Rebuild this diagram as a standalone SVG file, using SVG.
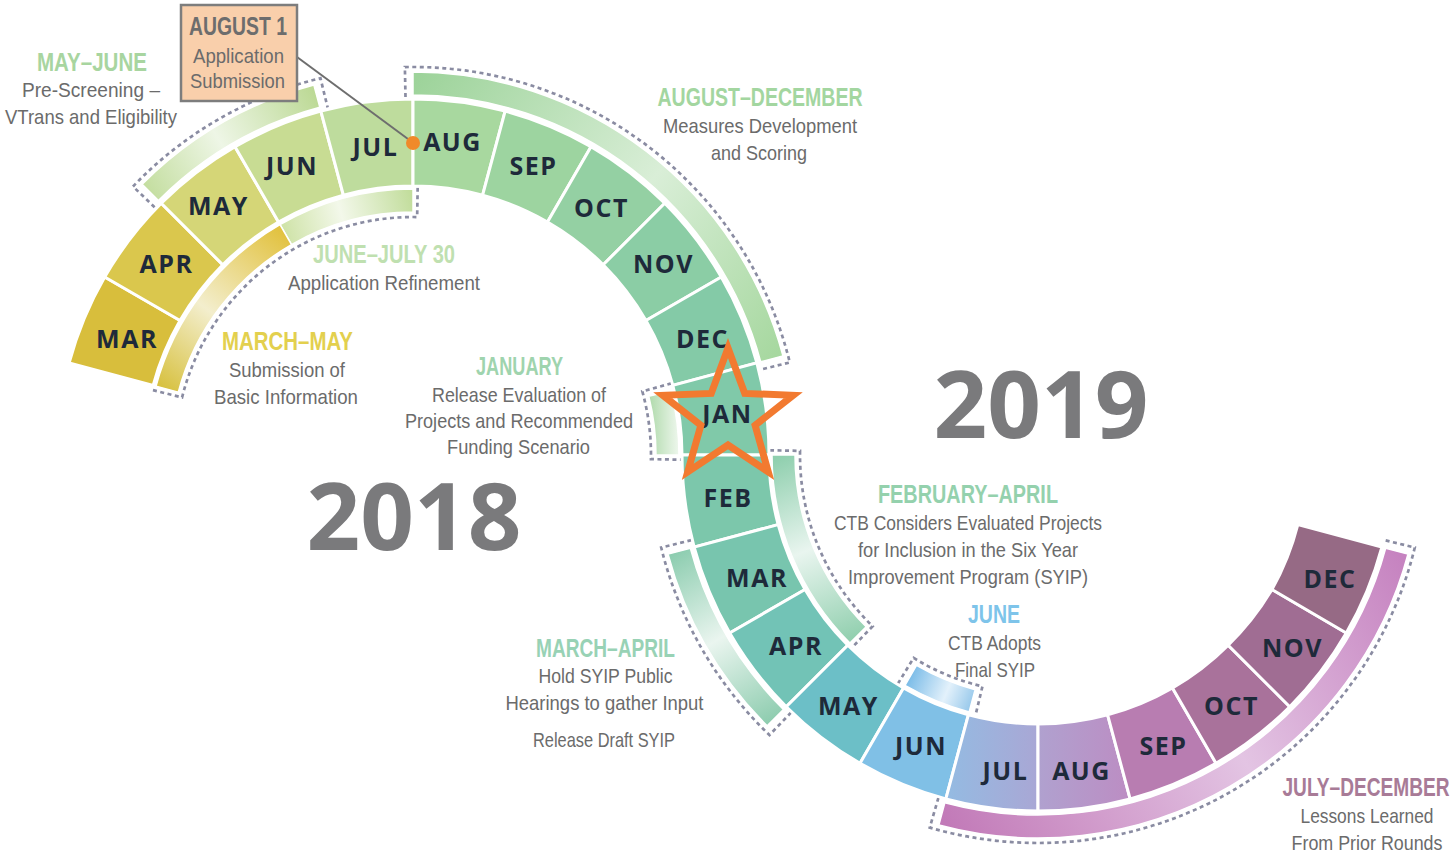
<svg xmlns="http://www.w3.org/2000/svg" width="1454" height="855" viewBox="0 0 1454 855">
<style>
.seg{stroke:#fff;stroke-width:3;stroke-linejoin:miter}
.band{stroke:#fff;stroke-width:1.5}
.dash{fill:none;stroke:#8a8ca2;stroke-width:2.7;stroke-dasharray:4 3.5}
.mon{font-family:"Open Sans","DejaVu Sans",sans-serif;font-weight:700;font-size:25px;letter-spacing:1.5px;fill:#1e2a3a;text-anchor:middle}
.hd{font-family:"Liberation Sans",Arial,sans-serif;font-weight:700;font-size:26px;text-anchor:middle}
.tx{font-family:"Liberation Sans",Arial,sans-serif;font-size:21px;fill:#6b6b6b;text-anchor:middle}
.yr{font-family:"Open Sans","DejaVu Sans",sans-serif;font-weight:700;font-size:94px;fill:#7a7a7c;text-anchor:middle}
</style>
<defs>
<linearGradient id="gMayJune" gradientUnits="userSpaceOnUse" x1="150" y1="195" x2="317" y2="96"><stop offset="0" stop-color="#c4dea0"/><stop offset="0.45" stop-color="#eef6e6"/><stop offset="1" stop-color="#bcd995"/></linearGradient>
<linearGradient id="gAugDec" gradientUnits="userSpaceOnUse" x1="413" y1="83" x2="772" y2="359"><stop offset="0" stop-color="#9dd39a"/><stop offset="0.55" stop-color="#d9eed7"/><stop offset="1" stop-color="#a7d8a0"/></linearGradient>
<linearGradient id="gJJ" gradientUnits="userSpaceOnUse" x1="285" y1="235" x2="413" y2="200"><stop offset="0" stop-color="#cfe3a8"/><stop offset="0.45" stop-color="#f3f8ea"/><stop offset="1" stop-color="#c2dd9c"/></linearGradient>
<linearGradient id="gMM" gradientUnits="userSpaceOnUse" x1="167" y1="389" x2="286" y2="235"><stop offset="0" stop-color="#d8c243"/><stop offset="0.45" stop-color="#f3eecd"/><stop offset="1" stop-color="#e2c240"/></linearGradient>
<linearGradient id="gJan" gradientUnits="userSpaceOnUse" x1="650" y1="420" x2="679" y2="420"><stop offset="0" stop-color="#b2dbae"/><stop offset="1" stop-color="#eef7ed"/></linearGradient>
<linearGradient id="gFebApr" gradientUnits="userSpaceOnUse" x1="783" y1="455" x2="858" y2="635"><stop offset="0" stop-color="#8fcfae"/><stop offset="0.5" stop-color="#e9f5ef"/><stop offset="1" stop-color="#93d0b0"/></linearGradient>
<linearGradient id="gMarApr" gradientUnits="userSpaceOnUse" x1="679" y1="551" x2="775" y2="718"><stop offset="0" stop-color="#8dcdb0"/><stop offset="0.5" stop-color="#eaf5ef"/><stop offset="1" stop-color="#8fcdb0"/></linearGradient>
<linearGradient id="gJun" gradientUnits="userSpaceOnUse" x1="911" y1="675" x2="972" y2="700"><stop offset="0" stop-color="#7dbde8"/><stop offset="0.6" stop-color="#e3f1fb"/><stop offset="1" stop-color="#9ccbec"/></linearGradient>
<linearGradient id="gJulDec" gradientUnits="userSpaceOnUse" x1="941" y1="814" x2="1397" y2="551"><stop offset="0" stop-color="#c27ab8"/><stop offset="0.55" stop-color="#e3c4e3"/><stop offset="1" stop-color="#c683c0"/></linearGradient>
<linearGradient id="gJul2" gradientUnits="userSpaceOnUse" x1="946" y1="760" x2="1038" y2="760"><stop offset="0" stop-color="#94bbe2"/><stop offset="1" stop-color="#a9a7d5"/></linearGradient>
<linearGradient id="gAug2" gradientUnits="userSpaceOnUse" x1="1038" y1="760" x2="1130" y2="760"><stop offset="0" stop-color="#b0a1cf"/><stop offset="1" stop-color="#bc8dc3"/></linearGradient>
</defs>
<rect width="1454" height="855" fill="#fff"/>

<!-- bands (upper arc) -->
<g id="band-may-june">
<path class="band" fill="url(#gMayJune)" d="M 142.18 184.18 A 383 383 0 0 1 313.87 85.05 L 319.83 107.27 A 360 360 0 0 0 158.44 200.44 Z"/>
<path class="dash" d="M 154.61 207.21 L 132.96 186.45 A 388 388 0 0 1 320.45 78.20 L 327.61 107.34"/>
<text class="hd" fill="#a8d5a0" x="92" y="71" textLength="110" lengthAdjust="spacingAndGlyphs">MAY–JUNE</text>
<text class="tx" x="91" y="97" textLength="138" lengthAdjust="spacingAndGlyphs">Pre-Screening –</text>
<text class="tx" x="91" y="124" textLength="172" lengthAdjust="spacingAndGlyphs">VTrans and Eligibility</text>
</g>
<g id="band-aug-dec">
<path class="band" fill="url(#gAugDec)" d="M 413 72 A 383 383 0 0 1 782.95 355.87 L 760.73 361.83 A 360 360 0 0 0 413 95 Z"/>
<path class="dash" d="M 405.50 97.08 L 404.87 67.08 A 388 388 0 0 1 789.80 362.45 L 760.66 369.61"/>
<text class="hd" fill="#a3d6a0" x="760" y="106" textLength="205" lengthAdjust="spacingAndGlyphs">AUGUST–DECEMBER</text>
<text class="tx" x="760" y="133" textLength="194" lengthAdjust="spacingAndGlyphs">Measures Development</text>
<text class="tx" x="759" y="160" textLength="96" lengthAdjust="spacingAndGlyphs">and Scoring</text>
</g>
<g id="band-june-july">
<path class="band" fill="url(#gJJ)" d="M 280 224.64 A 266 266 0 0 1 413 189 L 413 212 A 243 243 0 0 0 291.5 244.56 Z"/>
<text class="hd" fill="#bfe0b0" x="384" y="263" textLength="142" lengthAdjust="spacingAndGlyphs">JUNE–JULY 30</text>
<text class="tx" x="384" y="290" textLength="192" lengthAdjust="spacingAndGlyphs">Application Refinement</text>
</g>
<g id="band-march-may">
<path class="band" fill="url(#gMM)" d="M 156.06 386.15 A 266 266 0 0 1 280 224.64 L 291.5 244.56 A 243 243 0 0 0 178.28 392.11 Z"/>
<text class="hd" fill="#e3d04e" x="287.5" y="350" textLength="131" lengthAdjust="spacingAndGlyphs">MARCH–MAY</text>
<text class="tx" x="287" y="377" textLength="116" lengthAdjust="spacingAndGlyphs">Submission of</text>
<text class="tx" x="286" y="404" textLength="144" lengthAdjust="spacingAndGlyphs">Basic Information</text>
</g>
<path class="dash" d="M 152.96 390.16 L 182.07 397.42 A 238 238 0 0 1 417.15 217.04 L 417.68 187.04"/>
<g id="band-january">
<path class="band" fill="url(#gJan)" d="M 671.10 390.65 A 266 266 0 0 1 679 455 L 656 455 A 243 243 0 0 0 648.78 396.21 Z"/>
<path class="dash" d="M 671.25 383.38 L 642.34 391.40 A 238 238 0 0 1 650.96 459.15 L 680.96 459.68"/>
<text class="hd" fill="#9fd4ae" x="519.5" y="375" textLength="87" lengthAdjust="spacingAndGlyphs">JANUARY</text>
<text class="tx" x="519" y="402" textLength="174" lengthAdjust="spacingAndGlyphs">Release Evaluation of</text>
<text class="tx" x="519" y="428" textLength="228" lengthAdjust="spacingAndGlyphs">Projects and Recommended</text>
<text class="tx" x="518.5" y="454" textLength="143" lengthAdjust="spacingAndGlyphs">Funding Scenario</text>
</g>

<!-- bands (lower arc) -->
<g id="band-feb-april">
<path class="band" fill="url(#gFebApr)" d="M 772 455 A 266 266 0 0 0 849.91 643.09 L 866.17 626.83 A 243 243 0 0 1 795 455 Z"/>
<path class="dash" d="M 770.04 450.32 L 800.04 450.85 A 238 238 0 0 0 872.67 626.20 L 851.83 647.78"/>
<text class="hd" fill="#94d1ad" x="968" y="503" textLength="180" lengthAdjust="spacingAndGlyphs">FEBRUARY–APRIL</text>
<text class="tx" x="968" y="530" textLength="268" lengthAdjust="spacingAndGlyphs">CTB Considers Evaluated Projects</text>
<text class="tx" x="968" y="557" textLength="220" lengthAdjust="spacingAndGlyphs">for Inclusion in the Six Year</text>
<text class="tx" x="968" y="584" textLength="240" lengthAdjust="spacingAndGlyphs">Improvement Program (SYIP)</text>
</g>
<g id="band-march-april">
<path class="band" fill="url(#gMarApr)" d="M 668.05 554.13 A 383 383 0 0 0 767.18 725.82 L 783.44 709.56 A 360 360 0 0 1 690.27 548.17 Z"/>
<path class="dash" d="M 691.31 540.16 L 661.20 547.55 A 388 388 0 0 0 769.45 735.04 L 790.91 712.67"/>
<text class="hd" fill="#98d2b5" x="605.5" y="657" textLength="139" lengthAdjust="spacingAndGlyphs">MARCH–APRIL</text>
<text class="tx" x="605.5" y="683" textLength="134" lengthAdjust="spacingAndGlyphs">Hold SYIP Public</text>
<text class="tx" x="604.5" y="710" textLength="198" lengthAdjust="spacingAndGlyphs">Hearings to gather Input</text>
<text class="tx" x="604" y="747" textLength="142" lengthAdjust="spacingAndGlyphs">Release Draft SYIP</text>
</g>
<g id="band-june">
<path class="band" fill="url(#gJun)" d="M 905 685.36 A 266 266 0 0 0 969.15 711.94 L 975.11 689.72 A 243 243 0 0 1 916.5 665.44 Z"/>
<path class="dash" d="M 897.97 683.51 L 913.65 657.93 A 238 238 0 0 0 982.44 686.42 L 975.44 715.60"/>
<text class="hd" fill="#7ec4ea" x="994" y="623" textLength="52" lengthAdjust="spacingAndGlyphs">JUNE</text>
<text class="tx" x="994.5" y="650" textLength="93" lengthAdjust="spacingAndGlyphs">CTB Adopts</text>
<text class="tx" x="995" y="677" textLength="80" lengthAdjust="spacingAndGlyphs">Final SYIP</text>
</g>
<g id="band-july-december">
<path class="band" fill="url(#gJulDec)" d="M 938.87 824.95 A 383 383 0 0 0 1407.95 554.13 L 1385.73 548.17 A 360 360 0 0 1 944.83 802.73 Z"/>
<path class="dash" d="M 938.40 797.82 L 929.75 827.59 A 388 388 0 0 0 1414.80 547.55 L 1384.69 540.16"/>
<text class="hd" fill="#a87b97" transform="translate(1366 796) scale(0.75 1)" x="0" y="0" textLength="222.7" lengthAdjust="spacingAndGlyphs">JULY–DECEMBER</text>
<text class="tx" transform="translate(1367 823) scale(0.82 1)" x="0" y="0" textLength="162.2" lengthAdjust="spacingAndGlyphs">Lessons Learned</text>
<text class="tx" transform="translate(1367 850) scale(0.8 1)" x="0" y="0" textLength="188.75" lengthAdjust="spacingAndGlyphs">From Prior Rounds</text>
</g>

<!-- upper arc months (2018) -->
<g id="m2018-mar"><path class="seg" fill="#d8be3c" d="M 69.13 362.86 A 356 356 0 0 1 104.70 277 L 180.04 320.5 A 269 269 0 0 0 153.17 385.38 Z"/><text class="mon" x="127" y="348">MAR</text></g>
<g id="m2018-apr"><path class="seg" fill="#dac74d" d="M 104.70 277 A 356 356 0 0 1 161.27 203.27 L 222.79 264.79 A 269 269 0 0 0 180.04 320.5 Z"/><text class="mon" x="166.5" y="273">APR</text></g>
<g id="m2018-may"><path class="seg" fill="#d5d677" d="M 161.27 203.27 A 356 356 0 0 1 235 146.70 L 278.5 222.04 A 269 269 0 0 0 222.79 264.79 Z"/><text class="mon" x="218.5" y="215">MAY</text></g>
<g id="m2018-jun"><path class="seg" fill="#c8dc93" d="M 235 146.70 A 356 356 0 0 1 320.86 111.13 L 343.38 195.17 A 269 269 0 0 0 278.5 222.04 Z"/><text class="mon" x="292" y="175">JUN</text></g>
<g id="m2018-jul"><path class="seg" fill="#bedc9d" d="M 320.86 111.13 A 356 356 0 0 1 413 99 L 413 186 A 269 269 0 0 0 343.38 195.17 Z"/><text class="mon" x="375.5" y="156">JUL</text></g>
<g id="m2018-aug"><path class="seg" fill="#a8d89f" d="M 413 99 A 356 356 0 0 1 505.14 111.13 L 482.62 195.17 A 269 269 0 0 0 413 186 Z"/><text class="mon" x="452.5" y="151">AUG</text></g>
<g id="m2018-sep"><path class="seg" fill="#9dd4a0" d="M 505.14 111.13 A 356 356 0 0 1 591 146.70 L 547.5 222.04 A 269 269 0 0 0 482.62 195.17 Z"/><text class="mon" x="533.5" y="175">SEP</text></g>
<g id="m2018-oct"><path class="seg" fill="#94d0a3" d="M 591 146.70 A 356 356 0 0 1 664.73 203.27 L 603.21 264.79 A 269 269 0 0 0 547.5 222.04 Z"/><text class="mon" x="601.5" y="217">OCT</text></g>
<g id="m2018-nov"><path class="seg" fill="#8bcda5" d="M 664.73 203.27 A 356 356 0 0 1 721.30 277 L 645.96 320.5 A 269 269 0 0 0 603.21 264.79 Z"/><text class="mon" x="663.5" y="273">NOV</text></g>
<g id="m2018-dec"><path class="seg" fill="#84caa7" d="M 721.30 277 A 356 356 0 0 1 756.87 362.86 L 672.83 385.38 A 269 269 0 0 0 645.96 320.5 Z"/><text class="mon" x="702.5" y="348">DEC</text></g>
<g id="m2019-jan"><path class="seg" fill="#80c9a9" d="M 756.87 362.86 A 356 356 0 0 1 769 455 L 682 455 A 269 269 0 0 0 672.83 385.38 Z"/><text class="mon" x="727.5" y="423">JAN</text></g>

<!-- lower arc months (2019) -->
<g id="m2019-feb"><path class="seg" fill="#7cc7ab" d="M 682 455 A 356 356 0 0 0 694.13 547.14 L 778.17 524.62 A 269 269 0 0 1 769 455 Z"/><text class="mon" x="728" y="507">FEB</text></g>
<g id="m2019-mar"><path class="seg" fill="#78c5ae" d="M 694.13 547.14 A 356 356 0 0 0 729.70 633 L 805.04 589.5 A 269 269 0 0 1 778.17 524.62 Z"/><text class="mon" x="757" y="587">MAR</text></g>
<g id="m2019-apr"><path class="seg" fill="#72c3b6" d="M 729.70 633 A 356 356 0 0 0 786.27 706.73 L 847.79 645.21 A 269 269 0 0 1 805.04 589.5 Z"/><text class="mon" x="796" y="655">APR</text></g>
<g id="m2019-may"><path class="seg" fill="#6cbfc7" d="M 786.27 706.73 A 356 356 0 0 0 860 763.30 L 903.5 687.96 A 269 269 0 0 1 847.79 645.21 Z"/><text class="mon" x="848.5" y="715">MAY</text></g>
<g id="m2019-jun"><path class="seg" fill="#80c0e6" d="M 860 763.30 A 356 356 0 0 0 945.86 798.87 L 968.38 714.83 A 269 269 0 0 1 903.5 687.96 Z"/><text class="mon" x="921" y="755">JUN</text></g>
<g id="m2019-jul"><path class="seg" fill="url(#gJul2)" d="M 945.86 798.87 A 356 356 0 0 0 1038 811 L 1038 724 A 269 269 0 0 1 968.38 714.83 Z"/><text class="mon" x="1005.5" y="780">JUL</text></g>
<g id="m2019-aug"><path class="seg" fill="url(#gAug2)" d="M 1038 811 A 356 356 0 0 0 1130.14 798.87 L 1107.62 714.83 A 269 269 0 0 1 1038 724 Z"/><text class="mon" x="1081.5" y="780">AUG</text></g>
<g id="m2019-sep"><path class="seg" fill="#b87db1" d="M 1130.14 798.87 A 356 356 0 0 0 1216 763.30 L 1172.5 687.96 A 269 269 0 0 1 1107.62 714.83 Z"/><text class="mon" x="1163.5" y="755">SEP</text></g>
<g id="m2019-oct"><path class="seg" fill="#a9729b" d="M 1216 763.30 A 356 356 0 0 0 1289.73 706.73 L 1228.21 645.21 A 269 269 0 0 1 1172.5 687.96 Z"/><text class="mon" x="1231.5" y="715">OCT</text></g>
<g id="m2019-nov"><path class="seg" fill="#a06d93" d="M 1289.73 706.73 A 356 356 0 0 0 1346.30 633 L 1271.96 589.5 A 269 269 0 0 1 1228.21 645.21 Z"/><text class="mon" x="1292.5" y="657">NOV</text></g>
<g id="m2019-dec"><path class="seg" fill="#966a85" d="M 1346.30 633 A 356 356 0 0 0 1381.87 547.14 L 1297.83 524.62 A 269 269 0 0 1 1271.96 589.5 Z"/><text class="mon" x="1330" y="588">DEC</text></g>

<!-- years -->
<g id="year-2018"><text class="yr" x="414" y="550">2018</text></g>
<g id="year-2019"><text class="yr" x="1041" y="438">2019</text></g>

<!-- connectors -->
<g id="connectors">
<line x1="297" y1="57" x2="408" y2="139" stroke="#6e6e6e" stroke-width="2"/>
</g>

<!-- August 1 callout -->
<g id="august-1">
<rect x="181" y="5" width="116" height="96" fill="#f9cfab" stroke="#7d7d7d" stroke-width="2.5"/>
<text class="hd" fill="#6d6d6d" x="238" y="35" textLength="98" lengthAdjust="spacingAndGlyphs">AUGUST 1</text>
<text class="tx" fill="#7a7a7a" x="238.5" y="63" textLength="91" lengthAdjust="spacingAndGlyphs">Application</text>
<text class="tx" fill="#7a7a7a" x="237.5" y="88" textLength="95" lengthAdjust="spacingAndGlyphs">Submission</text>
</g>
<g id="submission-dot"><circle cx="413" cy="143" r="7" fill="#f08a2a"/></g>

<!-- star at January -->
<g id="star-jan">
<polygon points="728,348 744.75,393.44 793.15,395.33 755.11,425.31 768.26,471.92 728,445 687.74,471.92 700.89,425.31 662.85,395.33 711.25,393.44" fill="none" stroke="#f27a30" stroke-width="7" stroke-linejoin="miter"/>
</g>
</svg>
